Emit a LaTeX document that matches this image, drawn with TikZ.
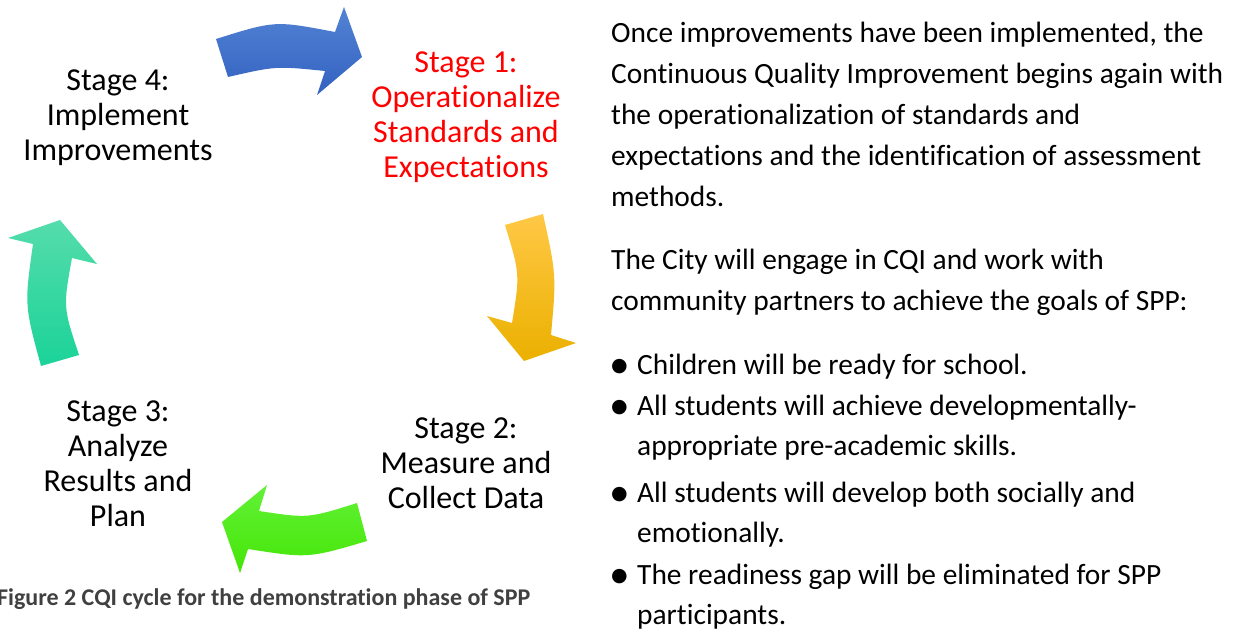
\documentclass[tikz,border=0pt]{standalone}
\usepackage{fontspec}
\setmainfont{Carlito}[Ligatures=CommonOff]
\newfontfamily\symfont{DejaVu Sans}
\definecolor{stagered}{HTML}{FF0000}
\definecolor{captiongray}{HTML}{404040}
\definecolor{blueT}{HTML}{5283D4}
\definecolor{blueB}{HTML}{3362C0}
\definecolor{yelT}{HTML}{FFC845}
\definecolor{yelB}{HTML}{EBB000}
\definecolor{grnT}{HTML}{62F236}
\definecolor{grnB}{HTML}{45E508}
\definecolor{tealT}{HTML}{55DCAC}
\definecolor{tealB}{HTML}{1BD398}
\newcommand{\bul}{\makebox[26pt][l]{\raisebox{3pt}{\symfont\fontsize{19}{19}\selectfont ●}}}
\begin{document}
\begin{tikzpicture}[x=1pt,y=-1pt,
  stagetext/.style={align=center,anchor=base,inner sep=0pt,
     font=\fontsize{32}{35}\selectfont},
  bodytext/.style={align=left,anchor=base west,inner sep=0pt,
     font=\fontsize{29.4}{41}\selectfont},
  bullettext/.style={align=left,anchor=base west,inner sep=0pt,
     font=\fontsize{29.4}{39.5}\selectfont},
  captext/.style={anchor=base west,inner sep=0pt,text=captiongray,
     font=\fontsize{24}{28}\selectfont\bfseries}]
\useasboundingbox (0,0) rectangle (1234,632);
% arrows
\path[top color=blueT,bottom color=blueB]
  (216,39) .. controls (275,20.5) .. (335,32) -- (344,7) -- (362,57)
  -- (317,95) -- (325,71) .. controls (276,66) .. (228,77) -- cycle;
\path[top color=yelT,bottom color=yelB]
  (505,225) -- (543,214) .. controls (556.4,275) .. (551,335) -- (576,343)
  -- (524,361) -- (487,316) -- (512,323) .. controls (520,274) .. (505,225) -- cycle;
\path[top color=grnT,bottom color=grnB]
  (357,503) .. controls (308,518.4) .. (259,511) -- (267,485) -- (222,522)
  -- (240,573) -- (248,549) .. controls (308,558.4) .. (367,541) -- cycle;
\path[top color=tealT,bottom color=tealB]
  (41,366) -- (79,355) .. controls (63.1,307) .. (72,258) -- (97,264)
  -- (60,220) -- (8,238) -- (33,244) .. controls (24.4,305) .. (41,366) -- cycle;
% stages (anchor base = baseline of last line)
\node[stagetext] (s4) at (118,160) {Stage 4:\\Implement\\Improvements};
\node[stagetext,text=stagered] (s1) at (466,177) {Stage 1:\\Operationalize\\Standards and\\Expectations};
\node[stagetext] (s2) at (466,508) {Stage 2:\\Measure and\\Collect Data};
\node[stagetext] (s3) at (118,526) {Stage 3:\\Analyze\\Results and\\Plan};
\node[captext] (cap) at (-3,605) {Figure 2 CQI cycle for the demonstration phase of SPP};
% right text
\node[bodytext] (p1) at (611,206) {Once improvements have been implemented, the\\Continuous Quality Improvement begins again with\\the operationalization of standards and\\expectations and the identification of assessment\\methods.};
\node[bodytext] (p2) at (611,310) {The City will engage in CQI and work with\\community partners to achieve the goals of SPP:};
\node[bullettext] (b1) at (611,374) {\bul Children will be ready for school.};
\node[bullettext] (b2) at (611,455) {\bul All students will achieve developmentally-\\\hspace*{26pt}appropriate pre-academic skills.};
\node[bullettext] (b3) at (611,542) {\bul All students will develop both socially and\\\hspace*{26pt}emotionally.};
\node[bullettext] (b4) at (611,624) {\bul The readiness gap will be eliminated for SPP\\\hspace*{26pt}participants.};
\end{tikzpicture}
\end{document}
